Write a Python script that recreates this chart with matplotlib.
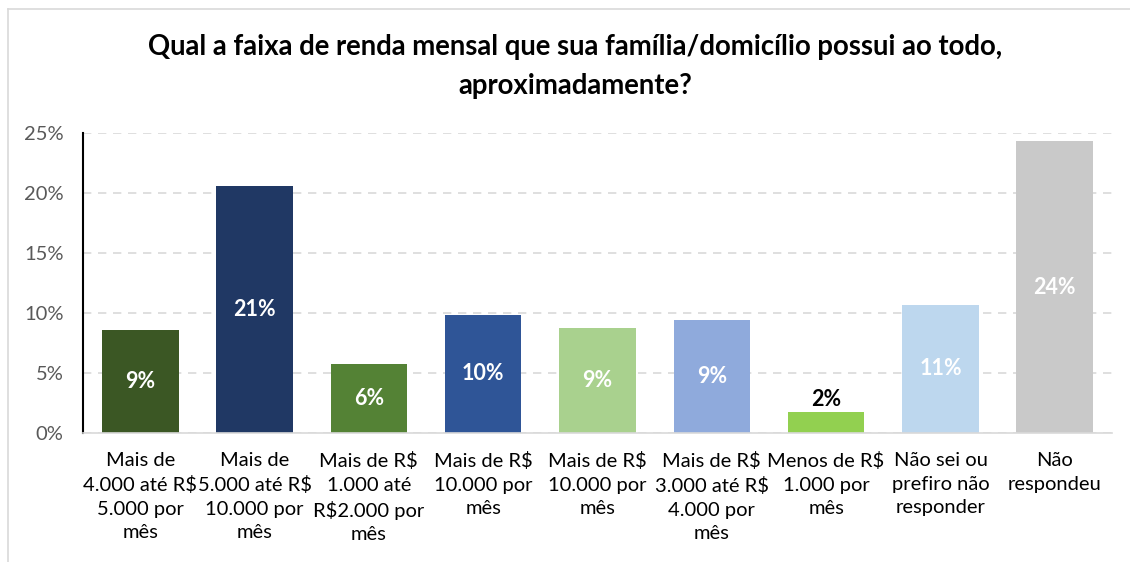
import numpy as np
import matplotlib.pyplot as plt
from matplotlib.lines import Line2D

categories = [
    'Mais de\n4.000 até R$\n5.000 por\nmês',
    'Mais de\n5.000 até R$\n10.000 por\nmês',
    'Mais de R$\n1.000 até\nR$2.000 por\nmês',
    'Mais de R$\n10.000 por\nmês',
    'Mais de R$\n10.000 por\nmês',
    'Mais de R$\n3.000 até R$\n4.000 por\nmês',
    'Menos de R$\n1.000 por\nmês',
    'Não sei ou\nprefiro não\nresponder',
    'Não\nrespondeu',
]
values = [8.6, 20.6, 5.75, 9.85, 8.75, 9.45, 1.75, 10.7, 24.35]
colors = ['#3b5724', '#203864', '#548235', '#2f5597', '#a9d18e',
          '#8faadc', '#92d050', '#bdd7ee', '#c9c9c9']
label_colors = ['white'] * 6 + ['black'] + ['white'] * 2

title = 'Qual a faixa de renda mensal que sua família/domicílio possui ao todo,\naproximadamente?'

if __name__ == '__main__':
    plt.rcParams['font.family'] = ['Lato', 'DejaVu Sans']
    fig = plt.figure(figsize=(11.3, 5.62), dpi=100)
    ax = fig.add_axes([0.0735, 0.2295, 0.9105, 0.5335])

    x = np.arange(len(categories))
    bars = ax.bar(x, values, 0.67, color=colors, zorder=2)

    # value labels: inside the bar, or above it when the bar is too short
    for rect, v, c in zip(bars, values, label_colors):
        cx = rect.get_x() + rect.get_width() / 2
        txt = f'{round(v + 1e-9):d}%'
        if v < 4:
            ax.text(cx, v + 0.2, txt, ha='center', va='bottom', color=c,
                    fontsize=15.5, fontweight='bold')
        else:
            ax.text(cx, v / 2, txt, ha='center', va='center', color=c,
                    fontsize=15.5, fontweight='bold')

    ax.set_xlim(-0.5, len(categories) - 0.5)
    ax.set_ylim(0, 25)
    ax.set_yticks(range(0, 26, 5))
    ax.set_yticklabels([f'{t}%' for t in range(0, 26, 5)])
    ax.set_xticks(x, categories)
    ax.tick_params(axis='y', length=0, labelsize=14.5, labelcolor='#595959', pad=14)
    ax.tick_params(axis='x', length=0, labelsize=14.5, labelcolor='black', pad=14)
    for lbl in ax.get_xticklabels():
        lbl.set_linespacing(1.45)
        lbl.set_va('top')

    ax.grid(axis='y', linestyle=(0, (5, 4)), color='#d9d9d9', linewidth=1.2, zorder=0)
    for s in ['top', 'right']:
        ax.spines[s].set_visible(False)
    ax.spines['left'].set_color('black')
    ax.spines['left'].set_linewidth(1.5)
    ax.spines['bottom'].set_color('#d9d9d9')
    ax.spines['bottom'].set_linewidth(1.2)

    fig.text(0.509, 0.882, title, ha='center', va='center', fontsize=19.8,
             fontweight='bold', linespacing=1.6)

    # chart area frame (top and left edges)
    fig.add_artist(Line2D([0.0075, 1.0], [0.984, 0.984], color='#d9d9d9', lw=1.2))
    fig.add_artist(Line2D([0.0075, 0.0075], [0.0, 0.984], color='#d9d9d9', lw=1.2))

    plt.savefig('out.png', dpi=100)
    plt.close()
